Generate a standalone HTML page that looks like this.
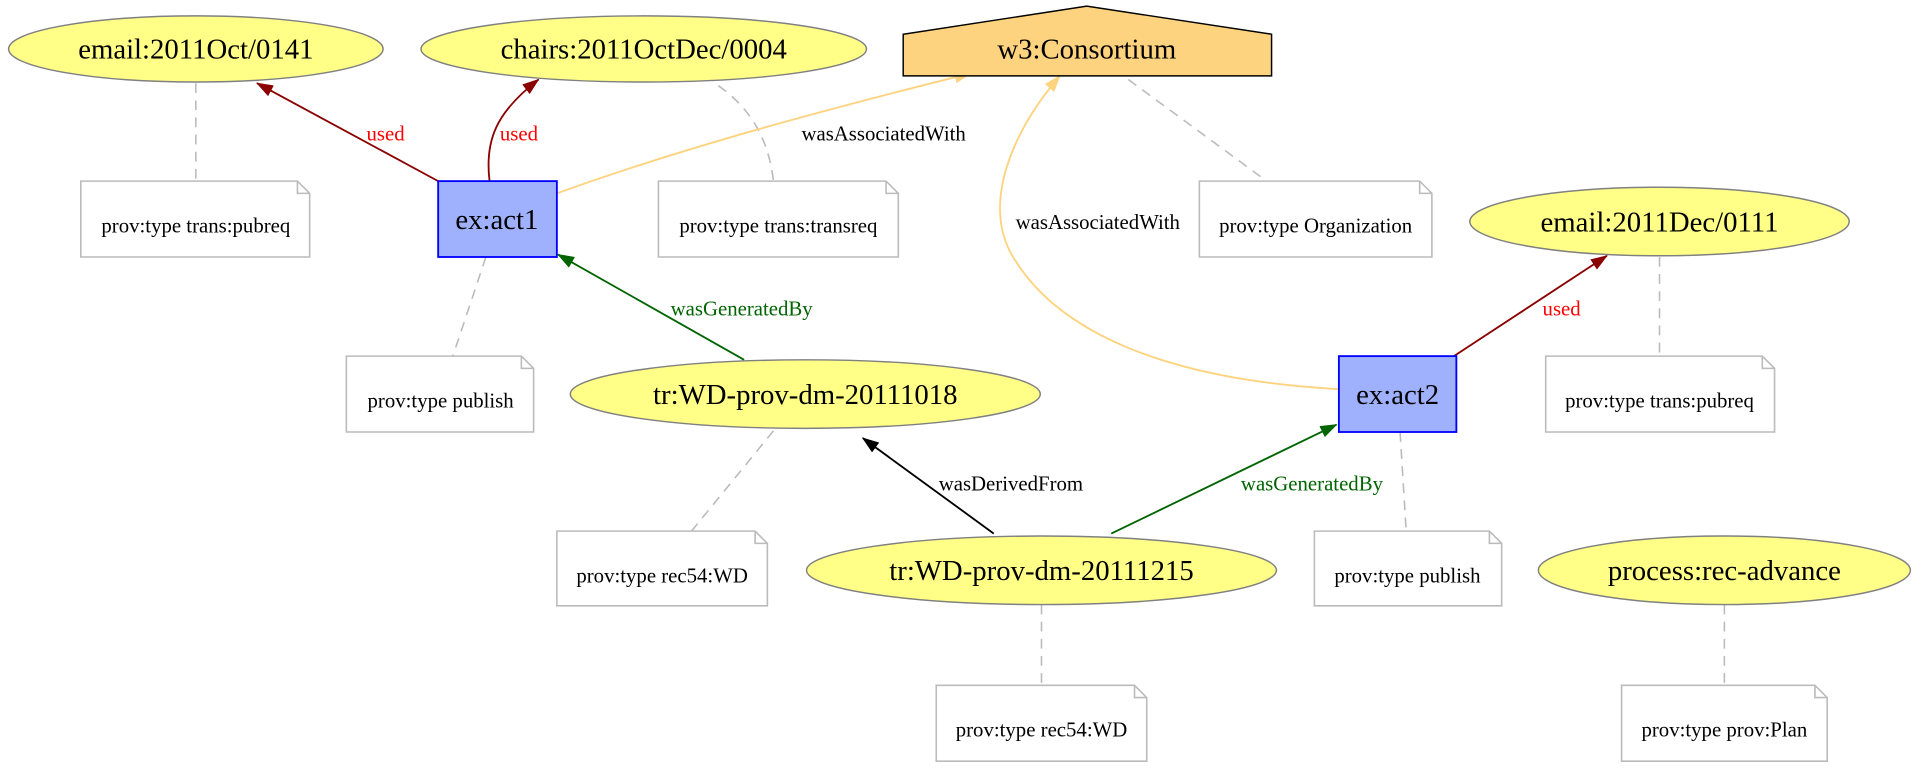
<!DOCTYPE html>
<html><head><meta charset="utf-8"><style>html,body{margin:0;padding:0;background:#fff}svg{display:block}</style></head><body>
<svg width="1919" height="771" viewBox="0 0 1568 630" xmlns="http://www.w3.org/2000/svg" font-family="Liberation Serif, serif">
<defs>
<marker id="mr" markerWidth="14" markerHeight="10" refX="13" refY="5" orient="auto" markerUnits="userSpaceOnUse" viewBox="0 0 14 10"><path d="M0,0L14,5L0,10z" fill="#8b0000"/></marker>
<marker id="mo" markerWidth="14" markerHeight="10" refX="13" refY="5" orient="auto" markerUnits="userSpaceOnUse" viewBox="0 0 14 10"><path d="M0,0L14,5L0,10z" fill="#fed37f"/></marker>
<marker id="mg" markerWidth="14" markerHeight="10" refX="13" refY="5" orient="auto" markerUnits="userSpaceOnUse" viewBox="0 0 14 10"><path d="M0,0L14,5L0,10z" fill="#006400"/></marker>
<marker id="mb" markerWidth="14" markerHeight="10" refX="13" refY="5" orient="auto" markerUnits="userSpaceOnUse" viewBox="0 0 14 10"><path d="M0,0L14,5L0,10z" fill="#000"/></marker>
</defs>
<g stroke="#bbb" stroke-width="1.3" stroke-dasharray="8,6" fill="none">
<path d="M160,68L160,148"/><path d="M587,70C615,90 628,115 632,148"/><path d="M922,65L1035,148"/>
<path d="M397,210L370,291"/><path d="M632,352L565,434"/><path d="M1144,353L1149,434"/>
<path d="M1356,210L1356,291"/><path d="M851,494L851,560"/><path d="M1409,494L1409,560"/>
</g>
<g fill="none" stroke-width="1.5">
<path d="M358,148L210,68" stroke="#8b0000" marker-end="url(#mr)"/>
<path d="M400,148C396,115 405,92 440,65" stroke="#8b0000" marker-end="url(#mr)"/>
<path d="M455,158C560,120 680,88 793,60" stroke="#fed37f" marker-end="url(#mo)"/>
<path d="M1094,318C950,310 860,270 825,205C805,165 825,110 866,62" stroke="#fed37f" marker-end="url(#mo)"/>
<path d="M1188,291L1313,209" stroke="#8b0000" marker-end="url(#mr)"/>
<path d="M608,294L456,208" stroke="#006400" marker-end="url(#mg)"/>
<path d="M812,436L705,358" stroke="#000" marker-end="url(#mb)"/>
<path d="M908,436L1092,347" stroke="#006400" marker-end="url(#mg)"/>
</g>
<g font-size="17" text-anchor="middle">
<text x="315" y="115" fill="red">used</text><text x="424" y="115" fill="red">used</text>
<text x="722" y="115">wasAssociatedWith</text><text x="897" y="187">wasAssociatedWith</text>
<text x="1276" y="258" fill="red">used</text><text x="606" y="258" fill="#006400">wasGeneratedBy</text>
<text x="826" y="401">wasDerivedFrom</text><text x="1072" y="401" fill="#006400">wasGeneratedBy</text>
</g>
<g fill="#ffff88" stroke="#808080" stroke-width="1.2">
<ellipse cx="160" cy="40" rx="153" ry="27"/><ellipse cx="526" cy="40" rx="182" ry="27"/>
<ellipse cx="1356" cy="181" rx="155" ry="28"/><ellipse cx="658" cy="322" rx="192" ry="28"/>
<ellipse cx="851" cy="466" rx="192" ry="28"/><ellipse cx="1409" cy="466" rx="152" ry="28"/>
</g>
<path d="M738,28L738,62L1039,62L1039,28L888,5Z" fill="#fed37f" stroke="#000" stroke-width="1.2"/>
<g fill="#9fb1fc" stroke="#0000ff" stroke-width="1.5">
<rect x="358" y="148" width="97" height="62"/><rect x="1094" y="291" width="96" height="62"/>
</g>
<g font-size="23.5" text-anchor="middle">
<text x="160" y="48">email:2011Oct/0141</text><text x="526" y="48">chairs:2011OctDec/0004</text>
<text x="888" y="48">w3:Consortium</text><text x="1356" y="189">email:2011Dec/0111</text>
<text x="658" y="330">tr:WD-prov-dm-20111018</text><text x="851" y="474">tr:WD-prov-dm-20111215</text>
<text x="1409" y="474">process:rec-advance</text>
<text x="406" y="187">ex:act1</text><text x="1142" y="330">ex:act2</text>
</g>
<g fill="#fff" stroke="#bbb" stroke-width="1.3">
<path d="M66,148H243L253,158V210H66Z M243,148V158H253"/>
<path d="M538,148H724L734,158V210H538Z M724,148V158H734"/>
<path d="M980,148H1160L1170,158V210H980Z M1160,148V158H1170"/>
<path d="M283,291H426L436,301V353H283Z M426,291V301H436"/>
<path d="M1263,291H1440L1450,301V353H1263Z M1440,291V301H1450"/>
<path d="M455,434H617L627,444V495H455Z M617,434V444H627"/>
<path d="M1074,434H1217L1227,444V495H1074Z M1217,434V444H1227"/>
<path d="M765,560H927L937,570V622H765Z M927,560V570H937"/>
<path d="M1325,560H1483L1493,570V622H1325Z M1483,560V570H1493"/>
</g>
<g font-size="17" text-anchor="middle">
<text x="160" y="190">prov:type trans:pubreq</text><text x="636" y="190">prov:type trans:transreq</text>
<text x="1075" y="190">prov:type Organization</text><text x="360" y="333">prov:type publish</text>
<text x="1356" y="333">prov:type trans:pubreq</text><text x="541" y="476">prov:type rec54:WD</text>
<text x="1150" y="476">prov:type publish</text><text x="851" y="602">prov:type rec54:WD</text>
<text x="1409" y="602">prov:type prov:Plan</text>
</g>
</svg>
</body></html>
